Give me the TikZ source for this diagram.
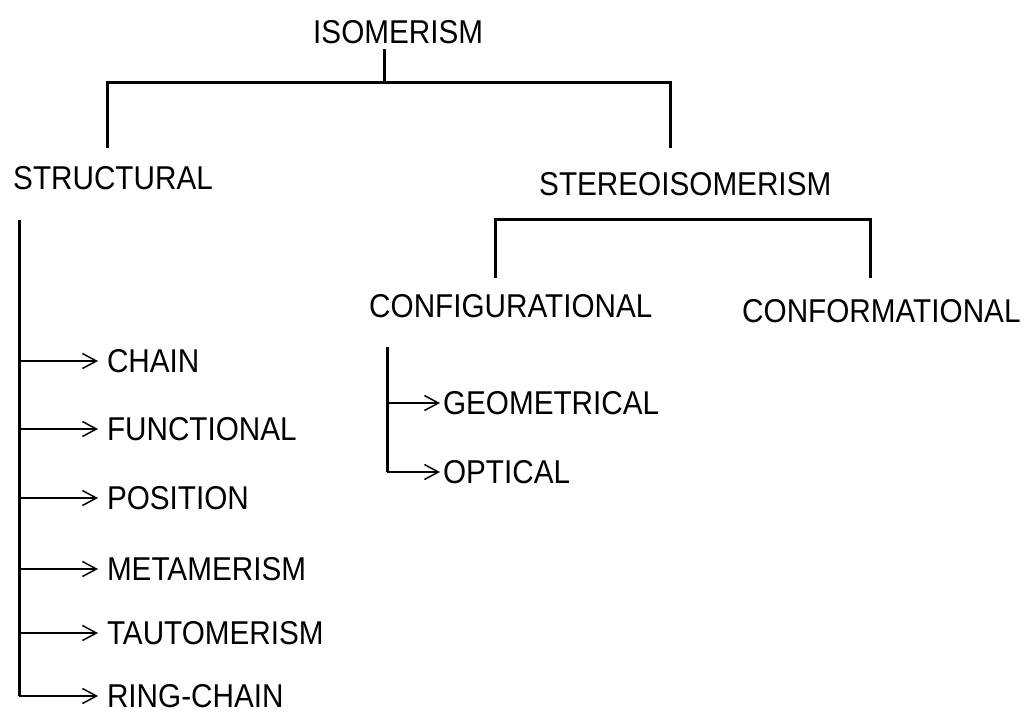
\documentclass[tikz,border=0pt]{standalone}
\usepackage{fontspec}
\setmainfont{Liberation Sans}
\newfontfamily\diagfont[FakeStretch=0.9]{Liberation Sans}
\usepackage{tikz}
\usetikzlibrary{arrows.meta, positioning, calc}
\tikzset{
    bar/.style={line width=3pt},
    branch/.style={-{Straight Barb[length=14pt, width=15pt]}, line width=1.5pt},
    txt/.style={inner sep=0pt, anchor=base west, font=\diagfont\fontsize{33}{40}\selectfont},
    leaf/.style={txt, anchor=west, outer xsep=9pt},
    subleaf/.style={txt, anchor=west, outer xsep=3pt}
}

\begin{document}
\begin{tikzpicture}[x=1pt, y=-1pt]
    \useasboundingbox (0,0) rectangle (1034,716);
    % Headings
    \node[txt] (isom) at (313,43) {ISOMERISM};
    \node[txt] (struct) at (13,189) {STRUCTURAL};
    \node[txt] (stereo) at (539,195) {STEREOISOMERISM};
    \node[txt] (config) at (369,317) {CONFIGURATIONAL};
    \node[txt] (conform) at (742,322) {CONFORMATIONAL};
    % Bar joints
    \coordinate (j1) at (384,82);
    \coordinate (l1) at (107,82);
    \coordinate (r1) at (670,82);
    \coordinate (c1) at (495,219);
    \coordinate (c2) at (870,219);
    \coordinate (s0) at (19,220);
    \coordinate (g0) at (387,347);
    % Top tree
    \draw[bar] ([yshift=-5pt]isom.south -| j1) -- (j1);
    \draw[bar] ([yshift=18pt]struct.north -| l1) -- (l1) -- (r1) -- ([yshift=24pt]stereo.north -| r1);
    \draw[bar] ([yshift=16pt]config.north -| c1) -- (c1) -- (c2) -- ([yshift=21pt]conform.north -| c2);
    % Structural types
    \node[leaf] (chain) at (98,361) {CHAIN};
    \node[leaf] (func) at (98,429) {FUNCTIONAL};
    \node[leaf] (pos) at (98,498) {POSITION};
    \node[leaf] (meta) at (98,569) {METAMERISM};
    \node[leaf] (taut) at (98,633) {TAUTOMERISM};
    \node[leaf] (ring) at (98,696) {RING-CHAIN};
    \draw[bar] (s0) -- (s0 |- ring.west);
    \foreach \n in {chain,func,pos,meta,taut,ring}
        \draw[branch] (s0 |- \n.west) -- (\n.west);
    % Configurational types
    \node[subleaf] (geo) at (440,403) {GEOMETRICAL};
    \node[subleaf] (opt) at (440,472) {OPTICAL};
    \draw[bar] (g0) -- (g0 |- opt.west);
    \foreach \n in {geo,opt}
        \draw[branch] (g0 |- \n.west) -- (\n.west);
\end{tikzpicture}
\end{document}
